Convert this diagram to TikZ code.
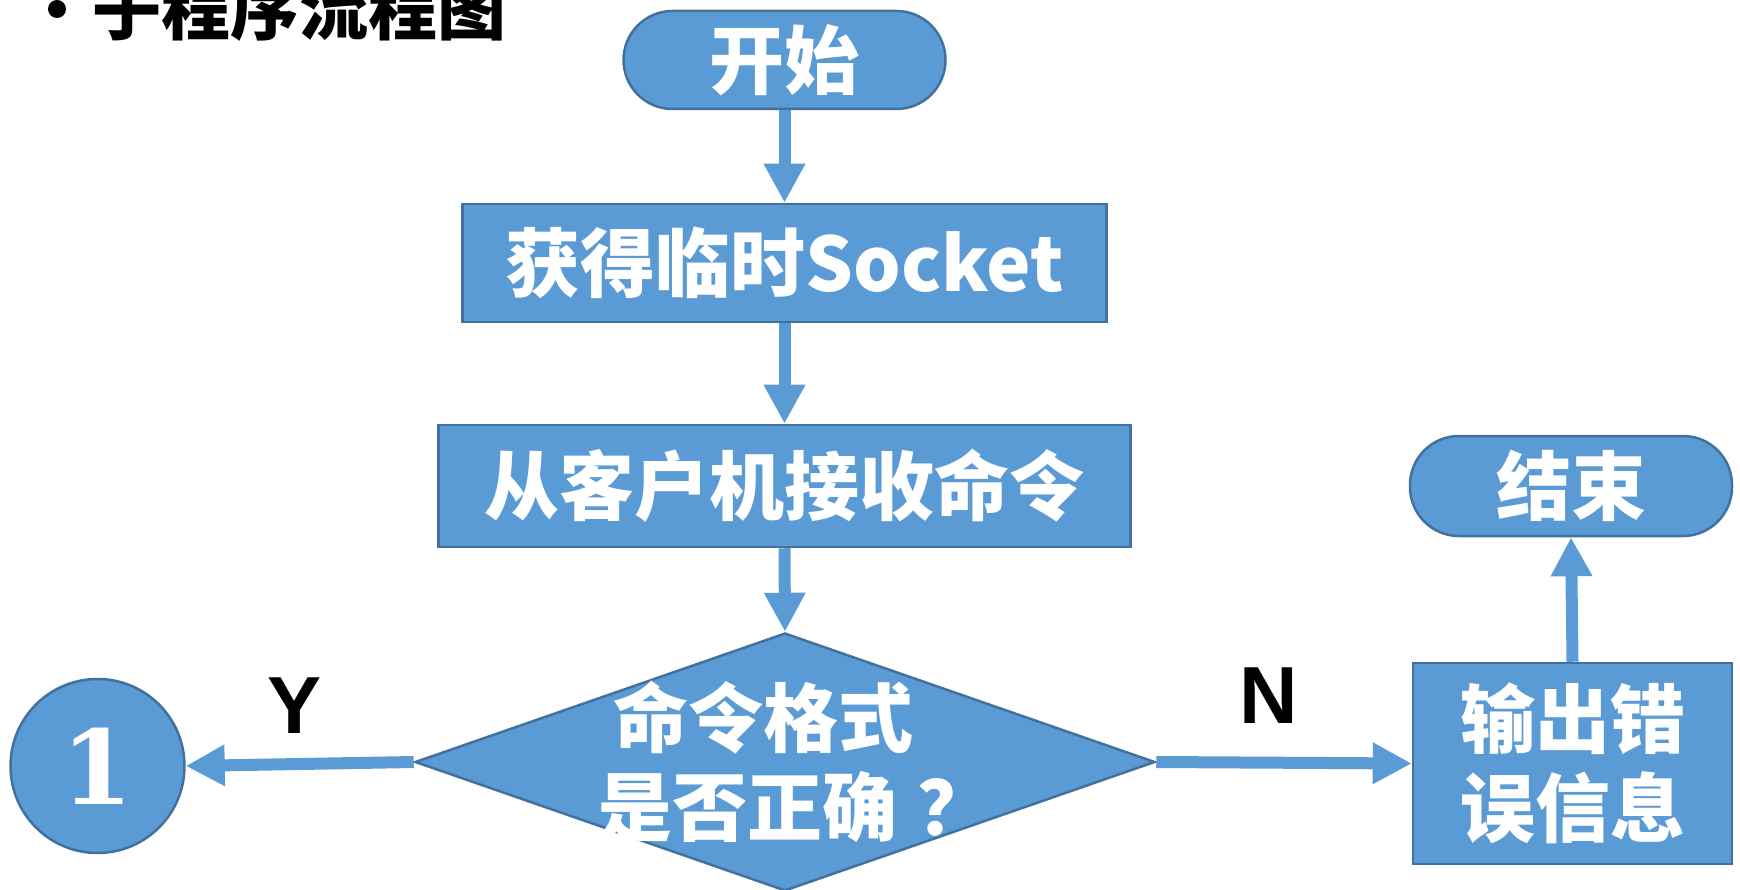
\documentclass[tikz,border=0pt]{standalone}
\usepackage{fontspec}
\usetikzlibrary{arrows.meta,shapes.geometric}
\newfontfamily\cjk{Noto Sans CJK SC}
\newfontfamily\latinbold{Liberation Sans}
\newfontfamily\numfont{DejaVu Serif}[UprightFont={* Bold}]
\definecolor{fillblue}{HTML}{5B9BD5}
\definecolor{edgeblue}{HTML}{41719C}
\tikzset{
  blockbase/.style={draw=edgeblue, line width=2.5pt, fill=fillblue, inner sep=0pt,
    text=white, font=\cjk\bfseries\fontsize{75}{89}\selectfont, align=center},
  termbox/.style={blockbase, rectangle, rounded corners=49pt},
  procbox/.style={blockbase, rectangle},
  decbox/.style={blockbase, diamond},
  connbox/.style={blockbase, circle, font=\numfont\fontsize{103}{103}\selectfont},
  flowarrow/.style={draw=fillblue, line width=12pt, -{Triangle[width=39pt,length=39pt]}},
  yn/.style={font=\latinbold\bfseries\fontsize{81}{81}\selectfont, inner sep=0pt, text=black},
  difftext/.style={text=white, font=\cjk\bfseries\fontsize{75}{89}\selectfont, align=center, inner sep=0pt}
}
\begin{document}
\begin{tikzpicture}[x=1pt,y=-1pt]
\useasboundingbox (0,0) rectangle (1740,890);
% title
\fill[black] (57,9) circle (9);
\node[anchor=south west, inner sep=0pt, font=\cjk\bfseries\fontsize{69}{69}\selectfont] (title) at (92,42) {子程序流程图};
% nodes
\node[termbox, minimum width=322pt, minimum height=98pt] (start) at (784.5,60) {开始};
\node[procbox, minimum width=644pt, minimum height=118pt] (sock) at (784.5,263) {获得临时Socket};
\node[procbox, minimum width=692pt, minimum height=122pt] (recv) at (784.5,486) {从客户机接收命令};
\node[decbox, minimum width=740pt, minimum height=258pt,
  label={[difftext]center:{命令格式\kern44pt\\是否正确\kern20pt？\kern-20pt}}] (dec) at (785,762) {};
\node[connbox, minimum size=174pt] (one) at (97.5,766) {1};
\node[procbox, minimum width=319pt, minimum height=201pt] (err) at (1572.5,763.5) {输出错\\误信息};
\node[termbox, minimum width=322pt, minimum height=100pt] (stop) at (1571,486) {结束};
% labels
\node[yn] (ylab) at (295,706) {Y};
\node[yn] (nlab) at (1269,696) {N};
% connectors
\draw[flowarrow] (start.south) -- (sock.north);
\draw[flowarrow] (sock.south) -- (recv.north);
\draw[flowarrow] (recv.south) -- (dec.north);
\draw[flowarrow] (dec.west) -- (one.east);
\draw[flowarrow] (dec.east) -- (err.west);
\draw[flowarrow] (err.north) -- (stop.south);
\end{tikzpicture}
\end{document}
